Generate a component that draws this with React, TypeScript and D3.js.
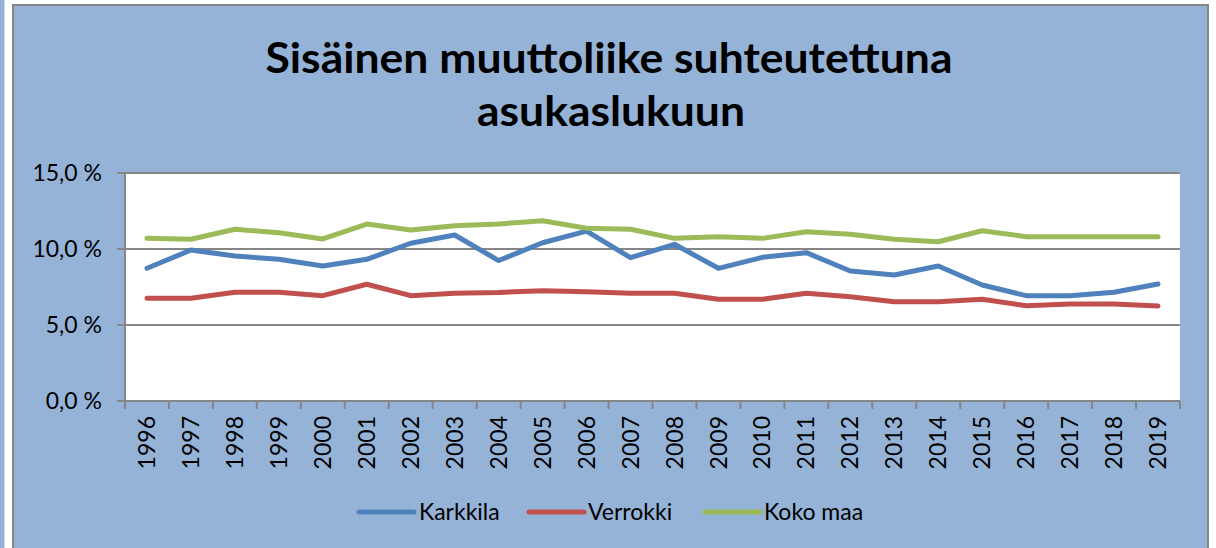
import React from "react";
import * as d3 from "d3";

const years = ["1996","1997","1998","1999","2000","2001","2002","2003","2004","2005","2006","2007","2008","2009","2010","2011","2012","2013","2014","2015","2016","2017","2018","2019"];
const karkkila = [8.73,9.93,9.54,9.32,8.88,9.32,10.38,10.92,9.24,10.41,11.18,9.43,10.31,8.73,9.45,9.76,8.55,8.29,8.88,7.63,6.93,6.93,7.15,7.7];
const verrokki = [6.76,6.76,7.15,7.15,6.93,7.68,6.93,7.09,7.14,7.26,7.19,7.09,7.09,6.69,6.69,7.09,6.86,6.53,6.53,6.69,6.27,6.38,6.38,6.25];
const kokoMaa = [10.7,10.64,11.3,11.07,10.66,11.64,11.25,11.53,11.64,11.86,11.36,11.3,10.7,10.81,10.7,11.14,10.97,10.64,10.48,11.2,10.81,10.81,10.81,10.81];
const yTicks = [0, 5, 10, 15];
const seriesNames = ["Karkkila", "Verrokki", "Koko maa"];
const titleLines = ["Sisäinen muuttoliike suhteutettuna", "asukaslukuun"];

const colors = ["#4f81bd", "#c0504d", "#9bbb59"];
const BG = "#95b3d7";
const GRID = "#868686";
const FONT = "Lato, 'Open Sans', sans-serif";

export default function App() {
  const W = 1216, H = 548;
  const left = 125, right = 1180, top = 173, bottom = 401;
  const x = d3.scaleBand<string>().domain(years).range([left, right]).paddingInner(0).paddingOuter(0);
  const y = d3.scaleLinear().domain([0, 15]).range([bottom, top]);
  const cx = (yr: string) => (x(yr) as number) + x.bandwidth() / 2;
  const fmt = (v: number) => d3.format(".1f")(v).replace(".", ",") + " %";
  const line = d3.line<number>().x((_, i) => cx(years[i])).y((d) => y(d));
  const series = [karkkila, verrokki, kokoMaa];
  const boundaries = years.map((yr) => x(yr) as number).concat([right]);

  const legendItems = [
    { lx: 359, tx: 419 },
    { lx: 529, tx: 588 },
    { lx: 705, tx: 764 },
  ];

  return (
    <div style={{ position: "absolute", left: 0, top: 0 }}>
      <svg width={W} height={H} style={{ display: "block" }}>
        <rect x={0} y={0} width={W} height={H} fill="#ffffff" />
        <rect x={0} y={0} width={4.5} height={H} fill={BG} />
        <rect x={13} y={5} width={1195} height={H} fill={BG} stroke={GRID} strokeWidth={2} />
        {/* title */}
        <text x={609} y={73} textAnchor="middle" fontFamily={FONT} fontWeight={700} fontSize={42} fill="#000" textLength={687} lengthAdjust="spacingAndGlyphs">{titleLines[0]}</text>
        <text x={611} y={126} textAnchor="middle" fontFamily={FONT} fontWeight={700} fontSize={42} fill="#000" textLength={268} lengthAdjust="spacingAndGlyphs">{titleLines[1]}</text>
        {/* plot area */}
        <rect x={left} y={top} width={right - left} height={bottom - top} fill="#ffffff" />
        {yTicks.map((t) => (
          <g key={t}>
            <line x1={117} x2={right} y1={y(t)} y2={y(t)} stroke={GRID} strokeWidth={2} />
            <text x={102} y={y(t)} dy="0.35em" textAnchor="end" fontFamily={FONT} fontSize={23} fill="#000">{fmt(t)}</text>
          </g>
        ))}
        <line x1={left} x2={left} y1={top} y2={409} stroke={GRID} strokeWidth={2} />
        {boundaries.map((b, i) => (
          <line key={i} x1={b} x2={b} y1={bottom} y2={409} stroke={GRID} strokeWidth={2} />
        ))}
        {years.map((yr) => (
          <text key={yr} transform={`translate(${cx(yr)},416) rotate(-90)`} dy="0.35em" textAnchor="end" fontFamily={FONT} fontSize={23} fill="#000">{yr}</text>
        ))}
        {series.map((s, i) => (
          <path key={i} d={line(s) as string} fill="none" stroke={colors[i]} strokeWidth={5} strokeLinejoin="round" strokeLinecap="round" />
        ))}
        {/* legend */}
        {seriesNames.map((n, i) => (
          <g key={n}>
            <line x1={legendItems[i].lx} x2={legendItems[i].lx + 55} y1={512} y2={512} stroke={colors[i]} strokeWidth={5} strokeLinecap="round" />
            <text x={legendItems[i].tx} y={512} dy="0.35em" fontFamily={FONT} fontSize={23} fill="#000">{n}</text>
          </g>
        ))}
      </svg>
    </div>
  );
}
